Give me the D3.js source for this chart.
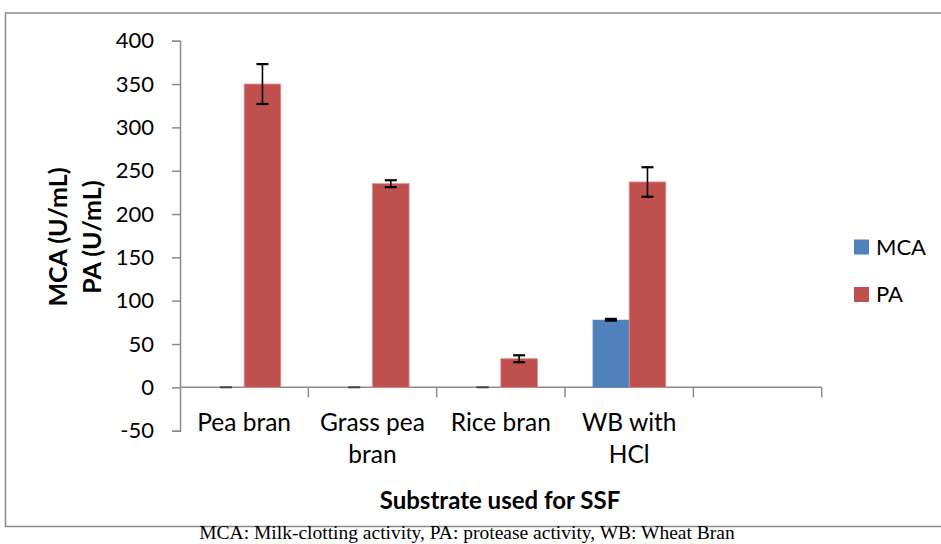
<!DOCTYPE html>
<html>
<head>
<meta charset="utf-8">
<script src="https://cdn.jsdelivr.net/npm/d3@7/dist/d3.min.js"></script>
<style>
  html, body { margin: 0; padding: 0; background: #fff; }
  svg { display: block; }
</style>
</head>
<body>
<svg id="chart" width="941" height="544"></svg>
<script>
// Substrates tested for solid-state fermentation (last slot left empty on the axis)
const categories = ["Pea bran", "Grass pea bran", "Rice bran", "WB with HCl", ""];
const categoryLines = [["Pea bran"], ["Grass pea", "bran"], ["Rice bran"], ["WB with", "HCl"], []];
const seriesNames = ["MCA", "PA"];
const mcaValues = [0, 0, 0, 78];
const mcaErrors = [0, 0, 0, 1];
const paValues = [350, 235, 33, 237];
const paErrors = [23, 4, 4, 17];
const yTicks = [-50, 0, 50, 100, 150, 200, 250, 300, 350, 400];
const seriesColors = ["#4F81BD", "#C0504D"];

const svg = d3.select("#chart");
const font = "Lato, 'Open Sans', sans-serif";
const axisGrey = "#8c8c8c";

// Outer chart frame
svg.append("path")
  .attr("d", "M 945 13 H 5.5 V 526.5 H 945")
  .attr("fill", "none").attr("stroke", axisGrey).attr("stroke-width", 1.5);

const x = d3.scaleBand().domain(categories).range([180, 821.7]).padding(0);
const groupGap = 27.6;
const xSub = d3.scaleBand().domain(seriesNames)
  .range([groupGap, x.bandwidth() - groupGap]).padding(0);
const y = d3.scaleLinear().domain([-50, 400]).range([430.7, 40.7]);

// Y axis
const yAxis = svg.append("g").attr("transform", "translate(180,0)")
  .call(d3.axisLeft(y).tickValues(yTicks).tickSize(8).tickPadding(18).tickFormat(d => String(d)));
yAxis.select(".domain").attr("stroke", axisGrey).attr("stroke-width", 1.5);
yAxis.selectAll(".tick line").attr("stroke", axisGrey).attr("stroke-width", 1.5);
yAxis.selectAll(".tick text")
  .attr("font-family", font).attr("font-size", 22).attr("fill", "#000");

// X axis along zero line, with ticks at category boundaries
const xAxisG = svg.append("g").attr("transform", `translate(0,${y(0)})`);
xAxisG.append("line")
  .attr("x1", x.range()[0]).attr("x2", x.range()[1])
  .attr("stroke", axisGrey).attr("stroke-width", 1.5);
const boundaries = categories.map(c => x(c)).concat([x.range()[1]]);
xAxisG.selectAll("line.tick").data(boundaries.slice(1)).join("line")
  .attr("class", "tick")
  .attr("x1", d => d).attr("x2", d => d).attr("y1", 0).attr("y2", 10)
  .attr("stroke", axisGrey).attr("stroke-width", 1.5);

// Category labels (wrapped)
const catLabels = svg.append("g");
categories.forEach((c, i) => {
  const t = catLabels.append("text")
    .attr("x", x(c) + x.bandwidth() / 2)
    .attr("y", 431)
    .attr("text-anchor", "middle")
    .attr("font-family", font).attr("font-size", 24.5).attr("fill", "#000");
  categoryLines[i].forEach((line, j) => {
    t.append("tspan").attr("x", x(c) + x.bandwidth() / 2).attr("dy", j === 0 ? 0 : 32).text(line);
  });
});

// Bars and error bars
const rows = categories.slice(0, 4).map((c, i) => ({
  category: c,
  values: [
    { series: "MCA", value: mcaValues[i], err: mcaErrors[i] },
    { series: "PA", value: paValues[i], err: paErrors[i] }
  ]
}));

const groups = svg.append("g").selectAll("g").data(rows).join("g")
  .attr("transform", d => `translate(${x(d.category)},0)`);

groups.selectAll("rect").data(d => d.values).join("rect")
  .attr("x", d => xSub(d.series))
  .attr("width", xSub.bandwidth())
  .attr("y", d => y(Math.max(0, d.value)))
  .attr("height", d => Math.abs(y(d.value) - y(0)))
  .attr("fill", (d, i) => seriesColors[i])
  .attr("stroke", (d, i) => i === 1 ? "#d88b89" : "none")
  .attr("stroke-width", 0.8);

const capHalf = 6;
const err = groups.selectAll("g.err").data(d => d.values).join("g").attr("class", "err");
err.append("line")
  .attr("x1", d => xSub(d.series) + xSub.bandwidth() / 2)
  .attr("x2", d => xSub(d.series) + xSub.bandwidth() / 2)
  .attr("y1", d => y(d.value + d.err)).attr("y2", d => y(d.value - d.err))
  .attr("stroke", "#000").attr("stroke-width", 1.6);
[1, -1].forEach(sign => {
  err.append("line")
    .attr("x1", d => xSub(d.series) + xSub.bandwidth() / 2 - capHalf)
    .attr("x2", d => xSub(d.series) + xSub.bandwidth() / 2 + capHalf)
    .attr("y1", d => y(d.value + sign * d.err)).attr("y2", d => y(d.value + sign * d.err))
    .attr("stroke", d => d.err === 0 ? "#444" : "#000").attr("stroke-width", d => d.err === 0 ? 1.6 : 2.2);
});

// Axis titles
svg.append("text")
  .attr("transform", "translate(67,237) rotate(-90)")
  .attr("text-anchor", "middle")
  .attr("font-family", font).attr("font-weight", "bold").attr("font-size", 25).attr("fill", "#000")
  .text("MCA (U/mL)");
svg.append("text")
  .attr("transform", "translate(101,237) rotate(-90)")
  .attr("text-anchor", "middle")
  .attr("font-family", font).attr("font-weight", "bold").attr("font-size", 25).attr("fill", "#000")
  .text("PA (U/mL)");

svg.append("text")
  .attr("x", 500).attr("y", 509)
  .attr("text-anchor", "middle")
  .attr("font-family", font).attr("font-weight", "bold").attr("font-size", 24).attr("fill", "#000")
  .text("Substrate used for SSF");

// Legend
const legend = svg.append("g");
seriesNames.forEach((s, i) => {
  const ly = 239.5 + i * 47.5;
  legend.append("rect").attr("x", 854).attr("y", ly).attr("width", 15).attr("height", 15)
    .attr("fill", seriesColors[i]);
  legend.append("text").attr("x", 876).attr("y", ly + 15)
    .attr("font-family", font).attr("font-size", 22).attr("fill", "#000").text(s);
});

// Caption under the frame
svg.append("text")
  .attr("x", 467).attr("y", 539)
  .attr("text-anchor", "middle")
  .attr("font-family", "'Liberation Serif', 'Times New Roman', serif").attr("font-size", 19.5).attr("fill", "#000")
  .text("MCA: Milk-clotting activity, PA: protease activity, WB: Wheat Bran");
</script>
</body>
</html>
